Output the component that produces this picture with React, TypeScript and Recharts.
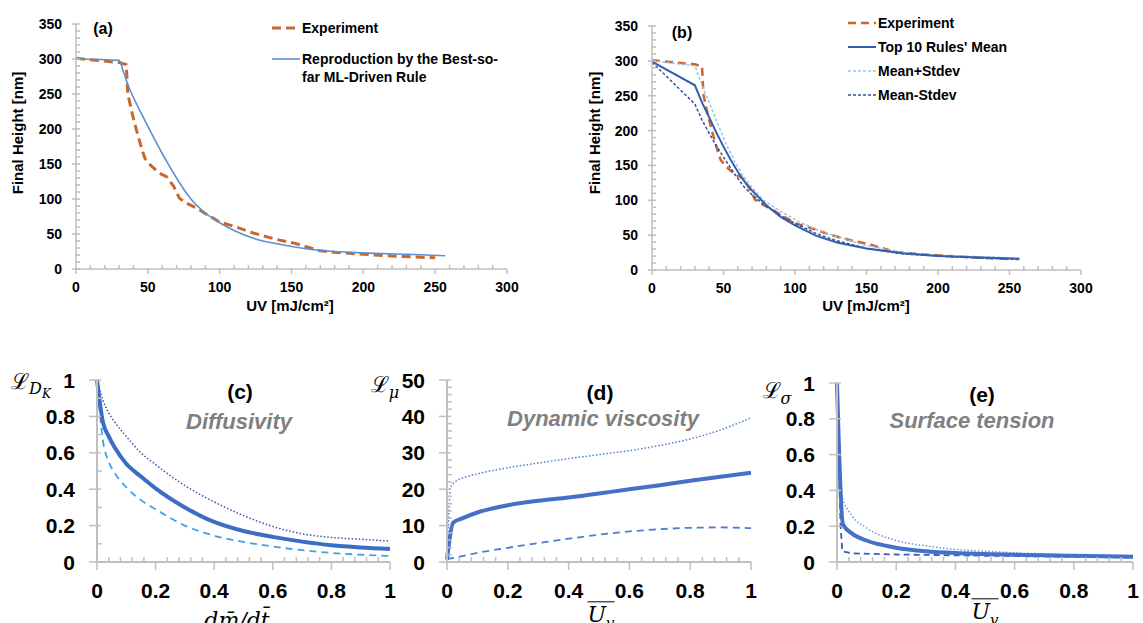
import { Line, LineChart, XAxis, YAxis } from 'recharts'
import type { CSSProperties, ReactNode } from 'react'

const FONT = '"Liberation Sans", Arial, sans-serif'
const MATH_FONT = '"DejaVu Serif", "Liberation Serif", serif'
const AXIS_COLOR = '#BFBFBF'
const ORANGE = '#C8682C'
const TITLE_GRAY = '#808080'

// (a), (b): UV dose vs final height
const uvTicks = [0, 50, 100, 150, 200, 250, 300]
const heightTicks = [0, 50, 100, 150, 200, 250, 300, 350]

const expUV = [0, 30, 35, 36, 39, 42, 46, 48, 52, 58, 63, 68, 72, 77, 84, 91, 100, 110, 124, 140, 152, 160, 170, 180, 200, 225, 250]
const expHeight = [301, 295, 292, 251, 223, 199, 170, 158, 148, 137, 132, 118, 101, 94, 87, 78, 67, 61, 51, 42, 37, 32, 26, 24, 21, 18, 16]

const bestUV = [0, 30, 33, 36, 40, 45, 50, 55, 60, 65, 70, 75, 80, 90, 100, 110, 125, 140, 160, 180, 200, 230, 257]
const bestHeight = [300, 298, 282, 264, 245, 224, 204, 184, 165, 147, 130, 114, 100, 80, 66, 55, 43, 36, 29, 25, 23, 21, 19]

const meanUV = [0, 30, 35, 40, 45, 50, 55, 60, 65, 70, 80, 90, 100, 115, 130, 150, 175, 200, 230, 257]
const meanHeight = [299, 265, 240, 219, 197, 177, 158, 141, 126, 114, 93, 76, 64, 49, 39, 31, 24, 20, 18, 16]

const plusUV = [0, 30, 35, 40, 45, 52, 58, 64, 70, 78, 90, 101, 115, 129, 150, 176, 200, 230, 257]
const plusHeight = [300, 293, 265, 240, 215, 180, 155, 134, 118, 100, 84, 71, 58, 48, 35, 25, 21, 19, 17]

const minusUV = [0, 30, 35, 40, 45, 50, 57, 64, 70, 78, 90, 101, 115, 129, 150, 176, 200, 230, 257]
const minusHeight = [298, 238, 215, 196, 178, 162, 140, 120, 108, 94, 78, 66, 52, 42, 31, 23, 20, 17, 15]

// (c), (d), (e): learned functions
const unitTicks = [0, 0.2, 0.4, 0.6, 0.8, 1]
const muTicks = [0, 10, 20, 30, 40, 50]

const diffX = [0, 0.02, 0.04, 0.06, 0.1, 0.15, 0.2, 0.3, 0.4, 0.5, 0.6, 0.7, 0.8, 0.9, 1]
const diffMean = [1, 0.77, 0.69, 0.63, 0.54, 0.47, 0.405, 0.3, 0.22, 0.17, 0.138, 0.112, 0.092, 0.08, 0.072]
const diffUpper = [1, 0.89, 0.82, 0.77, 0.69, 0.6, 0.535, 0.42, 0.33, 0.255, 0.195, 0.155, 0.135, 0.125, 0.115]
const diffLower = [1, 0.67, 0.55, 0.49, 0.41, 0.34, 0.29, 0.2, 0.145, 0.11, 0.085, 0.065, 0.05, 0.04, 0.033]

const viscX = [0, 0.02, 0.05, 0.1, 0.2, 0.3, 0.4, 0.5, 0.6, 0.7, 0.8, 0.9, 1]
const viscMean = [0.7, 10.8, 12.0, 13.6, 15.6, 16.8, 17.7, 18.8, 20.0, 21.1, 22.3, 23.4, 24.5]
const viscLower = [0.8, 1.1, 1.6, 2.5, 3.9, 5.2, 6.4, 7.5, 8.4, 9.0, 9.4, 9.5, 9.3]
const viscUpperX = [0, 0.012, 0.03, 0.06, 0.1, 0.2, 0.3, 0.4, 0.5, 0.6, 0.7, 0.8, 0.9, 1]
const viscUpper = [0.5, 20.5, 22.2, 23.3, 24.2, 25.9, 27.2, 28.4, 29.5, 30.6, 32, 33.8, 36.3, 39.6]

const tensX = [0, 0.02, 0.05, 0.1, 0.2, 0.3, 0.4, 0.5, 0.6, 0.8, 1]
const tensMean = [1, 0.21, 0.16, 0.12, 0.08, 0.06, 0.05, 0.045, 0.04, 0.035, 0.03]
const tensUpperX = [0, 0.015, 0.05, 0.1, 0.2, 0.3, 0.4, 0.5, 0.7, 1]
const tensUpper = [1, 0.38, 0.26, 0.19, 0.12, 0.09, 0.07, 0.06, 0.045, 0.035]
const tensLowerX = [0, 0.012, 0.018, 0.05, 0.2, 0.5, 1]
const tensLower = [1, 0.2, 0.06, 0.048, 0.042, 0.035, 0.025]

const zip = (xs: number[], ys: number[]) => xs.map((x, i) => ({ x, y: ys[i] }))

// evenly spaced minor tick positions between the first and last major tick
const withMinor = (majors: number[], step: number) => {
  const first = majors[0]
  const n = Math.round((majors[majors.length - 1] - first) / step)
  const out: number[] = []
  for (let i = 0; i <= n; i++) out.push(+(first + i * step).toFixed(6))
  return out
}

interface TickStyle {
  majors: number[]
  fontSize: number
  majorOut: number
  majorIn: number
  minorIn: number
  gap: number
}

const isMajor = (majors: number[], v: number) => majors.some((m) => Math.abs(m - v) < 1e-6)

function yTick(s: TickStyle) {
  return (props: any) => {
    const { x, y, payload } = props
    const major = isMajor(s.majors, payload.value)
    return (
      <g>
        <line
          x1={x - (major ? s.majorOut : 0)}
          x2={x + (major ? s.majorIn : s.minorIn)}
          y1={y}
          y2={y}
          stroke={AXIS_COLOR}
          strokeWidth={1.5}
        />
        {major && (
          <text
            x={x - s.gap}
            y={y}
            textAnchor="end"
            dominantBaseline="central"
            fontFamily={FONT}
            fontWeight="bold"
            fontSize={s.fontSize}
            fill="#000"
          >
            {payload.value}
          </text>
        )}
      </g>
    )
  }
}

function xTick(s: TickStyle) {
  return (props: any) => {
    const { x, y, payload } = props
    const major = isMajor(s.majors, payload.value)
    return (
      <g>
        <line
          x1={x}
          x2={x}
          y1={y - (major ? s.majorIn : s.minorIn)}
          y2={y + (major ? s.majorOut : 0)}
          stroke={AXIS_COLOR}
          strokeWidth={1.5}
        />
        {major && (
          <text
            x={x}
            y={y + s.gap}
            textAnchor="middle"
            dominantBaseline="central"
            fontFamily={FONT}
            fontWeight="bold"
            fontSize={s.fontSize}
            fill="#000"
          >
            {payload.value}
          </text>
        )}
      </g>
    )
  }
}

interface Series {
  name: string
  data: { x: number; y: number }[]
  color: string
  width: number
  dash?: string
  curve?: 'linear' | 'monotone'
}

interface PanelProps {
  left: number
  top: number
  width: number
  height: number
  margin: { top: number; right: number; bottom: number; left: number }
  yWidth: number
  xHeight: number
  xDomain: [number, number]
  yDomain: [number, number]
  xTicks: number[]
  yTicks: number[]
  xTickStyle: TickStyle
  yTickStyle: TickStyle
  axisWidth: number
  series: Series[]
}

function Panel(p: PanelProps) {
  return (
    <div style={{ position: 'absolute', left: p.left, top: p.top }}>
      <LineChart width={p.width} height={p.height} margin={p.margin}>
        <XAxis
          dataKey="x"
          type="number"
          domain={p.xDomain}
          ticks={p.xTicks}
          interval={0}
          height={p.xHeight}
          tickSize={0}
          tickMargin={0}
          tickLine={false}
          axisLine={{ stroke: AXIS_COLOR, strokeWidth: p.axisWidth }}
          tick={xTick(p.xTickStyle)}
        />
        <YAxis
          dataKey="y"
          type="number"
          domain={p.yDomain}
          ticks={p.yTicks}
          interval={0}
          width={p.yWidth}
          tickSize={0}
          tickMargin={0}
          tickLine={false}
          axisLine={{ stroke: AXIS_COLOR, strokeWidth: p.axisWidth }}
          tick={yTick(p.yTickStyle)}
        />
        {p.series.map((s) => (
          <Line
            key={s.name}
            name={s.name}
            data={s.data}
            dataKey="y"
            type={s.curve ?? 'monotone'}
            stroke={s.color}
            strokeWidth={s.width}
            strokeDasharray={s.dash}
            dot={false}
            activeDot={false}
            isAnimationActive={false}
          />
        ))}
      </LineChart>
    </div>
  )
}

function Text({ cx, cy, children, style, rotate }: { cx: number; cy: number; children: ReactNode; style?: CSSProperties; rotate?: boolean }) {
  return (
    <div
      style={{
        position: 'absolute',
        left: cx,
        top: cy,
        transform: `translate(-50%, -50%)${rotate ? ' rotate(-90deg)' : ''}`,
        whiteSpace: 'nowrap',
        fontFamily: FONT,
        lineHeight: 1.2,
        ...style,
      }}
    >
      {children}
    </div>
  )
}

function LegendEntry({ x, y, color, width, dash, children }: { x: number; y: number; color: string; width: number; dash?: string; children: ReactNode }) {
  return (
    <>
      <svg style={{ position: 'absolute', left: x, top: y - 5 }} width={28} height={10}>
        <line x1={0} x2={28} y1={5} y2={5} stroke={color} strokeWidth={width} strokeDasharray={dash} />
      </svg>
      <div
        style={{
          position: 'absolute',
          left: x + 30,
          top: y - 9,
          fontFamily: FONT,
          fontWeight: 'bold',
          fontSize: 14,
          lineHeight: '18px',
          whiteSpace: 'nowrap',
        }}
      >
        {children}
      </div>
    </>
  )
}

// bar over a symbol, drawn as a border so it spans the subscript too
function Bar({ children }: { children: ReactNode }) {
  return <span style={{ display: 'inline-block', borderTop: '1.5px solid #000', lineHeight: 1, paddingTop: 2 }}>{children}</span>
}

const upperX: TickStyle = { majors: uvTicks, fontSize: 14, majorOut: 5, majorIn: 0, minorIn: 4, gap: 18 }
const upperY: TickStyle = { majors: heightTicks, fontSize: 14, majorOut: 4, majorIn: 4, minorIn: 4, gap: 14 }
const lowerX: TickStyle = { majors: unitTicks, fontSize: 21, majorOut: 8, majorIn: 0, minorIn: 5, gap: 28 }
const lowerY: TickStyle = { majors: unitTicks, fontSize: 21, majorOut: 8, majorIn: 4, minorIn: 5, gap: 22 }
const muY: TickStyle = { ...lowerY, majors: muTicks }

const axisTitle: CSSProperties = { fontWeight: 'bold', fontSize: 15 }
const panelTag: CSSProperties = { fontWeight: 'bold', fontSize: 21 }
const panelName: CSSProperties = { fontWeight: 'bold', fontStyle: 'italic', fontSize: 22, color: TITLE_GRAY }
const math: CSSProperties = { fontFamily: MATH_FONT, fontSize: 22 }
const it: CSSProperties = { fontStyle: 'italic' }

export default function App() {
  return (
    <div
      style={{
        position: 'absolute',
        left: 0,
        top: 0,
        width: 1143,
        height: 623,
        overflow: 'hidden',
        background: '#fff',
      }}
    >
      {/* (a) */}
      <Panel
        left={0}
        top={0}
        width={560}
        height={320}
        margin={{ top: 24, right: 53, bottom: 21, left: 0 }}
        yWidth={76}
        xHeight={30}
        xDomain={[0, 300]}
        yDomain={[0, 350]}
        xTicks={withMinor(uvTicks, 10)}
        yTicks={withMinor(heightTicks, 10)}
        xTickStyle={upperX}
        yTickStyle={upperY}
        axisWidth={1.5}
        series={[
          { name: 'Experiment', data: zip(expUV, expHeight), color: ORANGE, width: 3, dash: '9 5', curve: 'linear' },
          { name: 'Reproduction', data: zip(bestUV, bestHeight), color: '#5B8FD6', width: 1.6 },
        ]}
      />
      <Text cx={103} cy={29} style={{ fontWeight: 'bold', fontSize: 16 }}>(a)</Text>
      <LegendEntry x={272} y={28} color={ORANGE} width={3} dash="9 5">Experiment</LegendEntry>
      <LegendEntry x={272} y={59} color="#5B8FD6" width={1.6}>
        Reproduction by the Best-so-
        <br />
        far ML-Driven Rule
      </LegendEntry>
      <Text cx={18} cy={133} rotate style={axisTitle}>Final Height [nm]</Text>
      <Text cx={290} cy={306} style={axisTitle}>UV [mJ/cm²]</Text>

      {/* (b) */}
      <Panel
        left={570}
        top={0}
        width={570}
        height={320}
        margin={{ top: 26, right: 59, bottom: 20, left: 0 }}
        yWidth={82}
        xHeight={30}
        xDomain={[0, 300]}
        yDomain={[0, 350]}
        xTicks={withMinor(uvTicks, 10)}
        yTicks={withMinor(heightTicks, 10)}
        xTickStyle={upperX}
        yTickStyle={upperY}
        axisWidth={1.5}
        series={[
          { name: 'Experiment', data: zip(expUV, expHeight), color: ORANGE, width: 2.5, dash: '8 5', curve: 'linear' },
          { name: 'Mean+Stdev', data: zip(plusUV, plusHeight), color: '#9DC3E6', width: 1.5, dash: '3 2', curve: 'linear' },
          { name: 'Mean-Stdev', data: zip(minusUV, minusHeight), color: '#2F4F9F', width: 1.5, dash: '3 2', curve: 'linear' },
          { name: "Top 10 Rules' Mean", data: zip(meanUV, meanHeight), color: '#2E5FB5', width: 2, curve: 'linear' },
        ]}
      />
      <Text cx={682} cy={33} style={{ fontWeight: 'bold', fontSize: 16 }}>(b)</Text>
      <LegendEntry x={848} y={23} color={ORANGE} width={2.5} dash="8 5">Experiment</LegendEntry>
      <LegendEntry x={848} y={47} color="#2E5FB5" width={2}>Top 10 Rules' Mean</LegendEntry>
      <LegendEntry x={848} y={71} color="#9DC3E6" width={1.5} dash="3 2">Mean+Stdev</LegendEntry>
      <LegendEntry x={848} y={95} color="#2F4F9F" width={1.5} dash="3 2">Mean-Stdev</LegendEntry>
      <Text cx={595} cy={133} rotate style={axisTitle}>Final Height [nm]</Text>
      <Text cx={866} cy={306} style={axisTitle}>UV [mJ/cm²]</Text>

      {/* (c) */}
      <Panel
        left={0}
        top={330}
        width={400}
        height={293}
        margin={{ top: 50, right: 10, bottom: 21, left: 0 }}
        yWidth={97}
        xHeight={40}
        xDomain={[0, 1]}
        yDomain={[0, 1]}
        xTicks={withMinor(unitTicks, 0.04)}
        yTicks={withMinor(unitTicks, 0.1)}
        xTickStyle={lowerX}
        yTickStyle={lowerY}
        axisWidth={2}
        series={[
          { name: 'upper', data: zip(diffX, diffUpper), color: '#3B55B0', width: 1.5, dash: '1.5 2' },
          { name: 'lower', data: zip(diffX, diffLower), color: '#3FA0E8', width: 1.8, dash: '7 5' },
          { name: 'mean', data: zip(diffX, diffMean), color: '#3B6DC4', width: 4 },
        ]}
      />
      <Text cx={240} cy={392} style={panelTag}>(c)</Text>
      <Text cx={239} cy={422} style={panelName}>Diffusivity</Text>
      <Text cx={31} cy={385} style={math}>
        ℒ
        <sub style={{ ...it, fontSize: 16 }}>
          D<sub style={{ fontSize: 12 }}>K</sub>
        </sub>
      </Text>
      <Text cx={237} cy={621} style={{ ...math, ...it }}>
        {'dm\u0304/dt\u0304'}
      </Text>

      {/* (d) */}
      <Panel
        left={370}
        top={330}
        width={390}
        height={293}
        margin={{ top: 50, right: 9, bottom: 21, left: 0 }}
        yWidth={77}
        xHeight={40}
        xDomain={[0, 1]}
        yDomain={[0, 50]}
        xTicks={withMinor(unitTicks, 0.04)}
        yTicks={withMinor(muTicks, 2)}
        xTickStyle={lowerX}
        yTickStyle={muY}
        axisWidth={2}
        series={[
          { name: 'upper', data: zip(viscUpperX, viscUpper), color: '#4A7ED4', width: 1.5, dash: '1.5 2' },
          { name: 'lower', data: zip(viscX, viscLower), color: '#4A7ED4', width: 1.8, dash: '7 5' },
          { name: 'mean', data: zip(viscX, viscMean), color: '#4470C8', width: 4 },
        ]}
      />
      <Text cx={600} cy={393} style={panelTag}>(d)</Text>
      <Text cx={603} cy={419} style={panelName}>Dynamic viscosity</Text>
      <Text cx={385} cy={387} style={math}>
        ℒ<sub style={{ ...it, fontSize: 16 }}>μ</sub>
      </Text>
      <Text cx={601} cy={616} style={{ ...math, ...it }}>
        <Bar>
          U<sub style={{ fontSize: 15 }}>v</sub>
        </Bar>
      </Text>

      {/* (e) */}
      <Panel
        left={760}
        top={330}
        width={383}
        height={293}
        margin={{ top: 53, right: 10, bottom: 21, left: 0 }}
        yWidth={77}
        xHeight={40}
        xDomain={[0, 1]}
        yDomain={[0, 1]}
        xTicks={withMinor(unitTicks, 0.04)}
        yTicks={unitTicks}
        xTickStyle={lowerX}
        yTickStyle={lowerY}
        axisWidth={2}
        series={[
          { name: 'upper', data: zip(tensUpperX, tensUpper), color: '#6D95DE', width: 1.5, dash: '1.5 2' },
          { name: 'lower', data: zip(tensLowerX, tensLower), color: '#3A5CC0', width: 1.8, dash: '6 4', curve: 'linear' },
          { name: 'mean', data: zip(tensX, tensMean), color: '#4470C8', width: 4 },
        ]}
      />
      <Text cx={982} cy={395} style={panelTag}>(e)</Text>
      <Text cx={972} cy={421} style={panelName}>Surface tension</Text>
      <Text cx={777} cy={393} style={math}>
        ℒ<sub style={{ ...it, fontSize: 16 }}>σ</sub>
      </Text>
      <Text cx={985} cy={613} style={{ ...math, ...it }}>
        <Bar>
          U<sub style={{ fontSize: 15 }}>v</sub>
        </Bar>
      </Text>
    </div>
  )
}
